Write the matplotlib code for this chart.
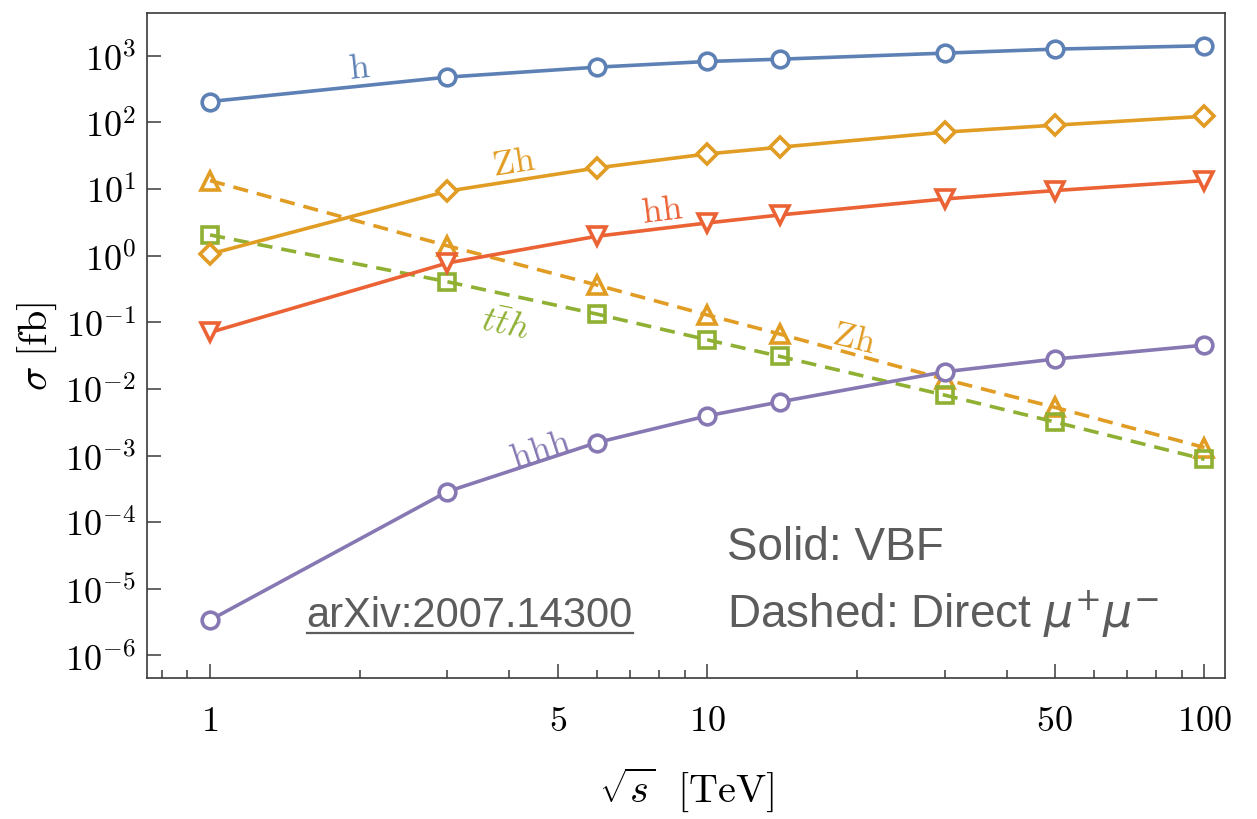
import matplotlib
matplotlib.use("Agg")
import matplotlib.pyplot as plt
import numpy as np
from matplotlib.ticker import FixedLocator, FixedFormatter, FuncFormatter, NullFormatter, NullLocator

plt.rcParams["mathtext.fontset"] = "cm"

# sqrt(s) in TeV
energy = [1, 3, 6, 10, 14, 30, 50, 100]

# VBF (solid)
vbf_h = [206, 479, 676, 822, 890, 1097, 1260, 1416]
vbf_zh = [1.06, 9.3, 20.8, 33.7, 42.5, 71.5, 91, 124]
vbf_hh = [0.0706, 0.776, 1.96, 3.1, 4.09, 7.1, 9.5, 13.4]
vbf_hhh = [3.4e-6, 2.88e-4, 1.57e-3, 3.95e-3, 6.4e-3, 0.0181, 0.0281, 0.0455]

# direct mu+ mu- (dashed)
dir_zh = [13.4, 1.41, 0.363, 0.129, 0.0667, 0.014, 5.3e-3, 1.32e-3]
dir_tth = [2.05, 0.407, 0.133, 0.0547, 0.0308, 8.1e-3, 3.2e-3, 8.8e-4]

x_major = [1, 5, 10, 50, 100]
x_labels = ["$1$", "$5$", "$10$", "$50$", "$100$"]

BLUE = "#5E81B5"
ORANGE = "#E19C24"
GREEN = "#8FB032"
RED = "#EB6235"
PURPLE = "#8778B3"
GREY = "#5c5c5c"

fig = plt.figure(figsize=(12.57, 8.2), dpi=100)
ax = fig.add_axes([0.117, 0.172, 0.8576, 0.811])

lw = 2.6
mew = 2.6
dash = (4.2, 2.5)

ax.plot(energy, vbf_h, color=BLUE, lw=lw, marker="o", ms=12, mfc="white", mew=mew, zorder=3)
ax.plot(energy, dir_zh, color=ORANGE, lw=lw, ls="--", dashes=dash, marker="^", ms=13,
        mfc="none", mew=mew, zorder=2)
ax.plot(energy, dir_tth, color=GREEN, lw=lw, ls="--", dashes=dash, marker="s", ms=11,
        mfc="none", mew=mew, zorder=2)
ax.plot(energy, vbf_zh, color=ORANGE, lw=lw, marker="D", ms=10.5, mfc="white", mew=mew, zorder=3)
ax.plot(energy, vbf_hh, color=RED, lw=lw, marker="v", ms=13, mfc="white", mew=mew, zorder=3)
ax.plot(energy, vbf_hhh, color=PURPLE, lw=lw, marker="o", ms=12, mfc="white", mew=mew, zorder=3)

ax.set_xscale("log")
ax.set_yscale("log")
ax.set_xlim(0.747, 110)
ax.set_ylim(4.6e-7, 4400)

ax.xaxis.set_major_locator(FixedLocator(x_major))
ax.xaxis.set_major_formatter(FixedFormatter(x_labels))
x_minor = [0.8, 0.9, 2, 3, 4, 6, 7, 8, 9, 20, 30, 40, 60, 70, 80, 90]
ax.xaxis.set_minor_locator(FixedLocator(x_minor))
ax.xaxis.set_minor_formatter(NullFormatter())

ax.yaxis.set_major_locator(FixedLocator([10.0 ** k for k in range(-6, 4)]))
ax.yaxis.set_major_formatter(FuncFormatter(lambda v, _: f"$10^{{{int(round(np.log10(v)))}}}$"))
ax.yaxis.set_minor_locator(NullLocator())

spine_c = "#3a3a3a"
for s in ax.spines.values():
    s.set_color(spine_c)
    s.set_linewidth(1.2)
ax.tick_params(which="both", direction="in", top=False, right=False, color=spine_c, width=1.1)
ax.tick_params(which="major", length=10, labelsize=26)
ax.tick_params(which="minor", length=6)
ax.tick_params(axis="x", which="major", pad=18)
ax.tick_params(axis="y", which="major", pad=8)

ax.set_xlabel(r"$\sqrt{s}\ \ \mathrm{[TeV]}$", fontsize=29, labelpad=20)
ax.set_ylabel(r"$\sigma\ \mathrm{[fb]}$", fontsize=29, labelpad=4)

# curve labels
lab = dict(fontsize=26, ha="center", va="center")
ax.text(2.0, 686, r"$\mathrm{h}$", color=BLUE, rotation=6, **lab)
ax.text(4.07, 25.5, r"$\mathrm{Zh}$", color=ORANGE, rotation=9, **lab)
ax.text(8.1, 5.0, r"$\mathrm{hh}$", color=RED, rotation=7, **lab)
ax.text(3.92, 0.094, r"$t\bar{t}h$", color=GREEN, rotation=-12, **lab)
ax.text(19.7, 0.060, r"$\mathrm{Zh}$", color=ORANGE, rotation=-14, **lab)
ax.text(4.61, 1.24e-3, r"$\mathrm{hhh}$", color=PURPLE, rotation=18, **lab)

sans = ["Liberation Sans", "DejaVu Sans"]
ax.text(0.538, 0.179, "Solid: VBF", transform=ax.transAxes, fontsize=33, color=GREY,
        family=sans, ha="left", va="baseline")
ax.text(0.538, 0.077, r"Dashed: Direct $\mu^{+}\mu^{-}$", transform=ax.transAxes, fontsize=33,
        color=GREY, family=sans, math_fontfamily="dejavusans", ha="left", va="baseline")
arx = ax.text(0.148, 0.078, "arXiv:2007.14300", transform=ax.transAxes, fontsize=30, color=GREY,
              family=sans, ha="left", va="baseline")

fig.canvas.draw()
bb = arx.get_window_extent().transformed(ax.transAxes.inverted())
ax.plot([bb.x0, bb.x1], [0.078 - 0.011, 0.078 - 0.011], transform=ax.transAxes,
        color=GREY, lw=1.6, clip_on=False)

fig.savefig("out.png", dpi=100)
